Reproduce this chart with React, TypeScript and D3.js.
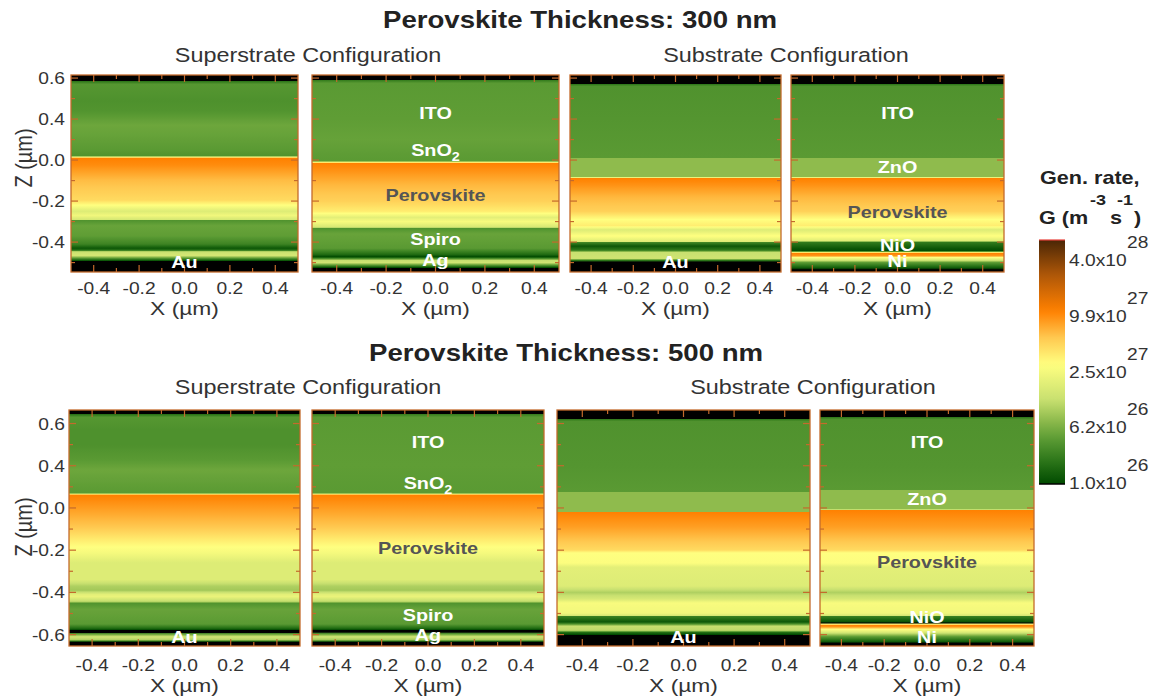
import React from 'react';
import * as d3 from 'd3';

// profiles: [z (µm), log10 G]; values below 26 are drawn black
const superAu300 = [
  [0.415, 25.5], [0.385, 25.5], [0.385, 26.25], [0.37, 26.48], [0.29, 26.44], [0.24, 26.46], [0.17, 26.58],
  [0.12, 26.55], [0.05, 26.5], [0.02, 26.45], [0.015, 27.2], [0.01, 27.95], [-0.024, 27.9], [-0.098, 27.7],
  [-0.195, 27.55], [-0.22, 27.35], [-0.25, 27.1], [-0.27, 27.25], [-0.29, 27.05], [-0.293, 26.45], [-0.32, 26.56],
  [-0.37, 26.52], [-0.41, 26.35], [-0.43, 26.08], [-0.44, 26.25], [-0.447, 26.95], [-0.465, 27.05], [-0.48, 26.45],
  [-0.49, 26.08], [-0.493, 25.5], [-0.546, 25.5],
];
const superAg300 = [
  [0.415, 25.5], [0.39, 25.5], [0.39, 26.3], [0.375, 26.5], [0.2, 26.52], [0.1, 26.55], [-0.005, 26.5],
  [-0.01, 27.2], [-0.015, 27.95], [-0.05, 27.88], [-0.12, 27.72], [-0.2, 27.6], [-0.25, 27.45], [-0.28, 27.15],
  [-0.3, 27.3], [-0.328, 27.05], [-0.332, 26.45], [-0.36, 26.56], [-0.43, 26.5], [-0.46, 26.2], [-0.472, 26.0],
  [-0.478, 26.3], [-0.49, 26.95], [-0.5, 27.0], [-0.515, 26.4], [-0.525, 26.0], [-0.527, 25.5], [-0.546, 25.5],
];
const subAu300 = [
  [0.415, 25.5], [0.371, 25.5], [0.371, 26.25], [0.36, 26.45], [0.2, 26.47], [0.01, 26.5], [0.01, 26.72],
  [-0.083, 26.72], [-0.085, 27.2], [-0.088, 27.95], [-0.12, 27.88], [-0.18, 27.72], [-0.25, 27.6], [-0.29, 27.35],
  [-0.32, 27.45], [-0.34, 27.1], [-0.37, 27.35], [-0.398, 27.1], [-0.4, 26.4], [-0.42, 26.08], [-0.44, 26.3],
  [-0.45, 26.95], [-0.48, 27.0], [-0.49, 26.25], [-0.498, 25.5], [-0.546, 25.5],
];
const subNi300 = [
  [0.415, 25.5], [0.371, 25.5], [0.371, 26.25], [0.36, 26.45], [0.2, 26.47], [0.01, 26.5], [0.01, 26.72],
  [-0.083, 26.72], [-0.085, 27.2], [-0.088, 27.95], [-0.12, 27.88], [-0.18, 27.72], [-0.25, 27.6], [-0.29, 27.35],
  [-0.32, 27.45], [-0.34, 27.1], [-0.37, 27.35], [-0.395, 27.1], [-0.4, 26.3], [-0.43, 26.08], [-0.444, 26.0],
  [-0.449, 27.2], [-0.454, 27.95], [-0.468, 27.85], [-0.475, 27.35], [-0.488, 27.05], [-0.5, 26.5], [-0.527, 26.08],
  [-0.535, 25.5], [-0.546, 25.5],
];
const superAu500 = [
  [0.464, 25.5], [0.443, 25.5], [0.443, 26.25], [0.43, 26.48], [0.37, 26.44], [0.3, 26.44], [0.227, 26.5],
  [0.18, 26.58], [0.1, 26.52], [0.07, 26.5], [0.066, 27.2], [0.062, 27.95], [0.024, 27.88], [-0.09, 27.65],
  [-0.185, 27.35], [-0.213, 27.28], [-0.26, 27.1], [-0.34, 27.1], [-0.37, 26.85], [-0.39, 26.8], [-0.41, 27.15],
  [-0.42, 27.2], [-0.44, 26.95], [-0.446, 26.85], [-0.45, 26.45], [-0.48, 26.56], [-0.55, 26.5], [-0.57, 26.2],
  [-0.578, 26.0], [-0.58, 25.5], [-0.59, 25.5], [-0.595, 26.45], [-0.61, 27.0], [-0.625, 26.85], [-0.632, 26.2],
  [-0.635, 25.5], [-0.654, 25.5],
];
const superAg500 = [
  [0.464, 25.5], [0.445, 25.5], [0.445, 26.3], [0.43, 26.5], [0.2, 26.52], [0.07, 26.5], [0.066, 27.2],
  [0.062, 27.95], [0.024, 27.88], [-0.09, 27.65], [-0.185, 27.35], [-0.213, 27.28], [-0.26, 27.1], [-0.34, 27.1],
  [-0.37, 26.85], [-0.39, 26.8], [-0.41, 27.15], [-0.42, 27.2], [-0.44, 26.95], [-0.446, 26.85], [-0.45, 26.45],
  [-0.48, 26.56], [-0.55, 26.5], [-0.57, 26.2], [-0.578, 26.0], [-0.58, 25.5], [-0.588, 25.5], [-0.595, 26.45],
  [-0.61, 27.0], [-0.625, 26.8], [-0.632, 26.2], [-0.635, 25.5], [-0.654, 25.5],
];
const subAu500 = [
  [0.464, 25.5], [0.422, 25.5], [0.422, 26.25], [0.41, 26.45], [0.2, 26.47], [0.076, 26.5], [0.076, 26.72],
  [-0.017, 26.72], [-0.019, 27.95], [-0.09, 27.82], [-0.199, 27.55], [-0.213, 27.35], [-0.261, 27.33],
  [-0.28, 27.15], [-0.37, 27.1], [-0.4, 26.85], [-0.43, 27.05], [-0.45, 27.3], [-0.498, 27.25], [-0.51, 27.05],
  [-0.512, 26.35], [-0.54, 26.08], [-0.55, 26.45], [-0.56, 26.95], [-0.58, 26.9], [-0.59, 26.2], [-0.6, 26.0],
  [-0.602, 25.5], [-0.654, 25.5],
];
const subNi500 = [
  [0.464, 25.5], [0.431, 25.5], [0.431, 26.25], [0.42, 26.45], [0.2, 26.47], [0.085, 26.5], [0.085, 26.72],
  [-0.007, 26.72], [-0.009, 27.95], [-0.09, 27.82], [-0.199, 27.55], [-0.213, 27.35], [-0.261, 27.33],
  [-0.28, 27.15], [-0.37, 27.1], [-0.4, 26.85], [-0.43, 27.05], [-0.45, 27.3], [-0.498, 27.25], [-0.51, 27.05],
  [-0.512, 26.35], [-0.54, 26.05], [-0.545, 25.6], [-0.55, 27.2], [-0.555, 27.95], [-0.564, 27.85],
  [-0.575, 27.35], [-0.59, 27.05], [-0.61, 26.5], [-0.635, 26.08], [-0.64, 25.5], [-0.654, 25.5],
];

// layer labels: [text, z]
const labelsSuperAu300 = [['Au', -0.498]];
const labelsSuperAg300 = [['ITO', 0.229], ['SnO|2', 0.049], ['Perovskite', -0.171], ['Spiro', -0.385], ['Ag', -0.488]];
const labelsSubAu300 = [['Au', -0.498]];
const labelsSubNi300 = [['ITO', 0.229], ['ZnO', -0.034], ['Perovskite', -0.254], ['NiO', -0.412], ['Ni', -0.49]];
const labelsSuperAu500 = [['Au', -0.611]];
const labelsSuperAg500 = [['ITO', 0.313], ['SnO|2', 0.118], ['Perovskite', -0.19], ['Spiro', -0.507], ['Ag', -0.602]];
const labelsSubAu500 = [['Au', -0.611]];
const labelsSubNi500 = [['ITO', 0.313], ['ZnO', 0.043], ['Perovskite', -0.256], ['NiO', -0.517], ['Ni', -0.611]];

const xTicks = [-0.4, -0.2, 0, 0.2, 0.4];
const xTickLabels = ['-0.4', '-0.2', '0.0', '0.2', '0.4'];
const xMinor = [-0.3, -0.1, 0.1, 0.3];
const yTicksTop = [0.4, 0.2, 0, -0.2, -0.4];
const yLabelsTop = ['0.6', '0.4', '0.0', '-0.2', '-0.4'];
const yTicksBottom = [0.4, 0.2, 0, -0.2, -0.4, -0.6];
const yLabelsBottom = ['0.6', '0.4', '0.0', '-0.2', '-0.4', '-0.6'];
const yMinor = [0.3, 0.1, -0.1, -0.3, -0.5];

const cbarLabels = ['4.0x10', '9.9x10', '2.5x10', '6.2x10', '1.0x10'];
const cbarExponents = ['28', '27', '27', '26', '26'];

const cmapValues = [26.0, 26.25, 26.5, 26.7, 26.95, 27.35, 27.65, 27.95, 28.35, 28.75];
const cmapColors = ['#004a00', '#2a7418', '#5a9a33', '#8ab84a', '#c8e070', '#ffff80', '#ffc850', '#ff8000', '#b05808', '#4a2606'];

const FONT = 'Liberation Sans, Arial, sans-serif';
const SX = 1.2; // the source figure is stretched sideways
const FRAME = '#c46a2c';

const cmap = d3.scaleLinear<string>().domain(cmapValues).range(cmapColors).interpolate(d3.interpolateRgb).clamp(true);
const colorOf = (v: number) => (v < 25.99 ? '#000000' : cmap(v));

const rows = [
  { y0: 75, y1: 272, domain: [0.415, -0.546], ticks: yTicksTop, tickLabels: yLabelsTop, xLabY: 294, xTitleY: 315, zLabelY: 158 },
  { y0: 410, y1: 646, domain: [0.464, -0.654], ticks: yTicksBottom, tickLabels: yLabelsBottom, xLabY: 671, xTitleY: 692, zLabelY: 527 },
];

const panels = [
  { row: 0, x0: 71, x1: 298, profile: superAu300, labels: labelsSuperAu300, yAxis: true },
  { row: 0, x0: 312, x1: 559, profile: superAg300, labels: labelsSuperAg300 },
  { row: 0, x0: 570, x1: 781, profile: subAu300, labels: labelsSubAu300 },
  { row: 0, x0: 791, x1: 1004, profile: subNi300, labels: labelsSubNi300 },
  { row: 1, x0: 69, x1: 300, profile: superAu500, labels: labelsSuperAu500, yAxis: true },
  { row: 1, x0: 312, x1: 544, profile: superAg500, labels: labelsSuperAg500 },
  { row: 1, x0: 557, x1: 810, profile: subAu500, labels: labelsSubAu500 },
  { row: 1, x0: 820, x1: 1034, profile: subNi500, labels: labelsSubNi500 },
];

function gradientStops(profile: number[][], y: d3.ScaleLinear<number, number>, y0: number, y1: number) {
  const stops: { o: number; c: string }[] = [];
  const off = (z: number) => Math.max(0, Math.min(1, (y(z) - y0) / (y1 - y0)));
  profile.forEach(([z, v], i) => {
    stops.push({ o: off(z), c: colorOf(v) });
    const next = profile[i + 1];
    if (next && v >= 26 && next[1] >= 26 && Math.abs(next[1] - v) > 0.05) {
      for (let k = 1; k < 6; k++) {
        const t = k / 6;
        stops.push({ o: off(z + (next[0] - z) * t), c: colorOf(v + (next[1] - v) * t) });
      }
    }
  });
  return stops;
}

const T = ({ x, y, size, anchor = 'middle', weight = 'normal', fill = '#333', children }: any) => (
  <text transform={`translate(${x},${y}) scale(${SX},1)`} textAnchor={anchor} fontSize={size}
    fontWeight={weight} fill={fill} fontFamily={FONT}>{children}</text>
);

const Panel = ({ p, i }: any) => {
  const r = rows[p.row];
  const x = d3.scaleLinear().domain([-0.5, 0.5]).range([p.x0, p.x1]);
  const y = d3.scaleLinear().domain(r.domain).range([r.y0, r.y1]);
  const stops = gradientStops(p.profile, y, r.y0, r.y1);
  const cx = (p.x0 + p.x1) / 2;
  return (
    <g>
      <defs>
        <linearGradient id={`gp${i}`} gradientUnits="userSpaceOnUse" x1={0} y1={r.y0} x2={0} y2={r.y1}>
          {stops.map((s, k) => <stop key={k} offset={s.o} stopColor={s.c} />)}
        </linearGradient>
      </defs>
      <rect x={p.x0} y={r.y0} width={p.x1 - p.x0} height={r.y1 - r.y0} fill={`url(#gp${i})`} />
      {xTicks.concat(xMinor).map((t, k) => {
        const len = k < xTicks.length ? 7 : 4;
        return (
          <g key={`xt${k}`} stroke={FRAME} strokeWidth={1.2}>
            <line x1={x(t)} x2={x(t)} y1={r.y0} y2={r.y0 + len} />
            <line x1={x(t)} x2={x(t)} y1={r.y1} y2={r.y1 - len} />
          </g>
        );
      })}
      {r.ticks.concat(yMinor).map((t, k) => {
        const len = k < r.ticks.length ? 7 : 4;
        return (
          <g key={`yt${k}`} stroke={FRAME} strokeWidth={1.2}>
            <line x1={p.x0} x2={p.x0 + len} y1={y(t)} y2={y(t)} />
            <line x1={p.x1} x2={p.x1 - len} y1={y(t)} y2={y(t)} />
          </g>
        );
      })}
      <rect x={p.x0} y={r.y0} width={p.x1 - p.x0} height={r.y1 - r.y0} fill="none" stroke={FRAME} strokeWidth={1.3} />
      {xTicks.map((t, k) => (
        <T key={`xl${k}`} x={x(t)} y={r.xLabY} size={16}>{xTickLabels[k]}</T>
      ))}
      <T x={cx} y={r.xTitleY} size={19}>X (µm)</T>
      {p.yAxis && r.ticks.map((t, k) => (
        <T key={`yl${k}`} x={65} y={y(t) + 6} size={16} anchor="end">{r.tickLabels[k]}</T>
      ))}
      {p.yAxis && (
        <text transform={`translate(24,${r.zLabelY}) rotate(-90) scale(1,${SX})`} textAnchor="middle"
          dominantBaseline="central" fontSize={20} fill="#333" fontFamily={FONT}>Z (µm)</text>
      )}
      {p.labels.map(([txt, z]: any, k: number) => {
        const [main, sub] = String(txt).split('|');
        const fill = main === 'Perovskite' ? '#555555' : '#ffffff';
        return (
          <T key={`ll${k}`} x={cx} y={y(z) + 6} size={16.5} weight="bold" fill={fill}>
            {main}
            {sub && <tspan fontSize={12} dy={5}>{sub}</tspan>}
          </T>
        );
      })}
    </g>
  );
};

const ColorBar = () => {
  const cx0 = 1039, cx1 = 1065, cy0 = 240, cy1 = 484;
  const cy = d3.scaleLinear().domain([cmapValues[0], cmapValues[cmapValues.length - 1]]).range([cy1, cy0]);
  const samples = d3.range(0, 41).map((k) => cmapValues[0] + (k / 40) * (cmapValues[cmapValues.length - 1] - cmapValues[0]));
  const ly = d3.scalePoint<string>().domain(cbarLabels).range([260, 483]);
  return (
    <g>
      <defs>
        <linearGradient id="cbar" gradientUnits="userSpaceOnUse" x1={0} y1={cy1} x2={0} y2={cy0}>
          {samples.map((v, k) => <stop key={k} offset={(cy1 - cy(v)) / (cy1 - cy0)} stopColor={cmap(v)} />)}
        </linearGradient>
      </defs>
      <rect x={cx0} y={cy0} width={cx1 - cx0} height={cy1 - cy0} fill="url(#cbar)" />
      <line x1={cx0} x2={cx1} y1={cy0} y2={cy0} stroke="#e8403a" strokeWidth={1.2} />
      <line x1={cx0} x2={cx1} y1={cy1} y2={cy1} stroke="#000" strokeWidth={1.5} />
      {cbarLabels.map((l, k) => (
        <g key={l + k}>
          <T x={1069} y={(ly(l) as number) + 6} size={16} anchor="start">{l}</T>
          <T x={1127} y={(ly(l) as number) - 12} size={16} anchor="start">{cbarExponents[k]}</T>
        </g>
      ))}
      <T x={1040} y={184} size={18} weight="bold" anchor="start" fill="#222">Gen. rate,</T>
      <T x={1039} y={224} size={18} weight="bold" anchor="start" fill="#222">G (m</T>
      <T x={1090} y={205} size={15} weight="bold" anchor="start" fill="#222">-3</T>
      <T x={1110} y={224} size={18} weight="bold" anchor="start" fill="#222">s</T>
      <T x={1117} y={205} size={15} weight="bold" anchor="start" fill="#222">-1</T>
      <T x={1134} y={224} size={18} weight="bold" anchor="start" fill="#222">)</T>
    </g>
  );
};

export default function App() {
  return (
    <svg width={1151} height={696} style={{ position: 'absolute', left: 0, top: 0, background: '#fff' }}>
      <T x={580} y={28} size={23} weight="bold" fill="#222">Perovskite Thickness: 300 nm</T>
      <T x={566} y={361} size={23} weight="bold" fill="#222">Perovskite Thickness: 500 nm</T>
      <T x={308} y={62} size={19.5}>Superstrate Configuration</T>
      <T x={786} y={62} size={19.5}>Substrate Configuration</T>
      <T x={308} y={394} size={19.5}>Superstrate Configuration</T>
      <T x={813} y={394} size={19.5}>Substrate Configuration</T>
      {panels.map((p, i) => <Panel key={i} p={p} i={i} />)}
      <ColorBar />
    </svg>
  );
}
